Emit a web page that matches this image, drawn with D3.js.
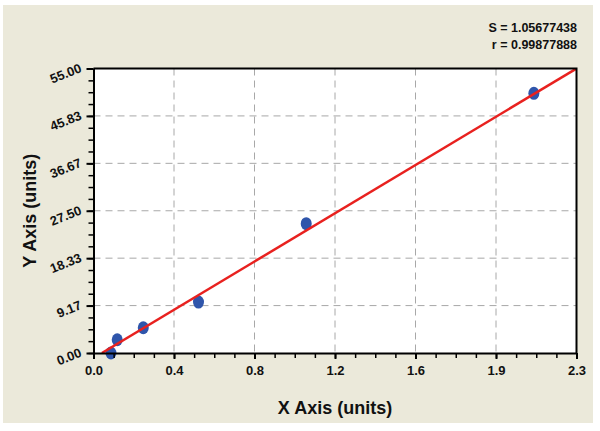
<!DOCTYPE html>
<html>
<head>
<meta charset="utf-8">
<script src="https://cdn.jsdelivr.net/npm/d3@7"></script>
<style>
  body { margin: 0; background: #fff; }
  svg text { font-family: "Liberation Sans", Arial, sans-serif; font-weight: bold; fill: #111; }
</style>
</head>
<body>
<svg width="600" height="431"></svg>
<script>
// data
var xData = [0.083, 0.113, 0.237, 0.50, 1.013, 2.097];
var yData = [0.0, 2.56, 4.88, 9.84, 25.0, 50.2];
// fitted line end points
var fitX = [0.04, 2.3];
var fitY = [0, 55];
var xTickLabels = ['0.0', '0.4', '0.8', '1.2', '1.6', '1.9', '2.3'];
var yTickLabels = ['0.00', '9.17', '18.33', '27.50', '36.67', '45.83', '55.00'];
var statLines = ['S = 1.05677438', 'r = 0.99877888'];

var svg = d3.select('svg');
var margin = { top: 68.5, right: 23.5, bottom: 78, left: 93.5 },
    width = 600,
    height = 431,
    drawWidth = width - margin.left - margin.right,
    drawHeight = height - margin.top - margin.bottom;

var xMax = 2.3, yMax = 55;

// beige panel
svg.append('rect')
    .attr('x', 3).attr('y', 5)
    .attr('width', 590).attr('height', 418)
    .attr('fill', '#ebe9da');

var xScale = d3.scaleLinear().domain([0, xMax]).range([0, drawWidth]);
var yScale = d3.scaleLinear().domain([0, yMax]).range([drawHeight, 0]);

var xMajor = d3.range(7).map(function(i) { return i * xMax / 6; });
var yMajor = d3.range(7).map(function(i) { return i * yMax / 6; });
var xMinor = d3.range(25).map(function(i) { return i * xMax / 24; });
var yMinor = d3.range(25).map(function(i) { return i * yMax / 24; });

var g = svg.append('g')
    .attr('transform', 'translate(' + margin.left + ',' + margin.top + ')');

g.append('rect')
    .attr('width', drawWidth).attr('height', drawHeight)
    .attr('fill', '#fff');

// dashed grid
g.append('g').selectAll('line')
    .data(xMajor.slice(1, -1))
    .enter().append('line')
    .attr('x1', function(d) { return xScale(d); })
    .attr('x2', function(d) { return xScale(d); })
    .attr('y1', 0).attr('y2', drawHeight)
    .attr('stroke', '#a8a8a8').attr('stroke-dasharray', '7,5');

g.append('g').selectAll('line')
    .data(yMajor.slice(1, -1))
    .enter().append('line')
    .attr('y1', function(d) { return yScale(d); })
    .attr('y2', function(d) { return yScale(d); })
    .attr('x1', 0).attr('x2', drawWidth)
    .attr('stroke', '#a8a8a8').attr('stroke-dasharray', '7,5');

// clip for the fit line
g.append('clipPath').attr('id', 'clip')
  .append('rect').attr('width', drawWidth).attr('height', drawHeight);

var line = d3.line()
    .x(function(d) { return xScale(d[0]); })
    .y(function(d) { return yScale(d[1]); });

// points
g.append('g').selectAll('ellipse')
    .data(d3.zip(xData, yData))
    .enter().append('ellipse')
    .attr('cx', function(d) { return xScale(d[0]); })
    .attr('cy', function(d) { return yScale(d[1]); })
    .attr('rx', 5.5).attr('ry', 6.5)
    .attr('fill', '#2f55ab');

g.append('path')
    .datum(d3.zip(fitX, fitY))
    .attr('d', line)
    .attr('clip-path', 'url(#clip)')
    .attr('fill', 'none')
    .attr('stroke', '#e8211f')
    .attr('stroke-width', 2.5);

// frame
g.append('path')
    .attr('d', 'M0,0H' + drawWidth + 'V' + drawHeight)
    .attr('fill', 'none').attr('stroke', '#000').attr('stroke-width', 2);

// axes
var xAxisG = g.append('g').attr('transform', 'translate(0,' + drawHeight + ')');
xAxisG.append('g').call(d3.axisBottom(xScale).tickValues(xMinor).tickSize(5).tickFormat(''))
    .call(function(s) { s.select('.domain').remove(); s.selectAll('line').attr('stroke-width', 1.5); });
xAxisG.append('g').call(d3.axisBottom(xScale).tickValues(xMajor).tickSize(6).tickSizeOuter(0)
        .tickFormat(function(d, i) { return xTickLabels[i]; }))
    .call(function(s) {
        s.select('.domain').attr('stroke-width', 2);
        s.selectAll('line').attr('stroke-width', 2);
        s.selectAll('text').attr('font-size', 13).attr('dy', '1.0em').attr('fill', '#111');
    });

var yAxisG = g.append('g');
yAxisG.append('g').call(d3.axisLeft(yScale).tickValues(yMinor).tickSize(5).tickFormat(''))
    .call(function(s) { s.select('.domain').remove(); s.selectAll('line').attr('stroke-width', 1.5); });
yAxisG.append('g').call(d3.axisLeft(yScale).tickValues(yMajor).tickSize(7).tickSizeOuter(0).tickFormat(''))
    .call(function(s) {
        s.select('.domain').attr('stroke-width', 2);
        s.selectAll('line').attr('stroke-width', 2);
    });
yAxisG.append('g').selectAll('text')
    .data(yMajor)
    .enter().append('text')
    .attr('transform', function(d) { return 'translate(-11,' + (yScale(d) + 3) + ') rotate(-22)'; })
    .attr('text-anchor', 'end')
    .attr('font-size', 13)
    .text(function(d, i) { return yTickLabels[i]; });

// titles
svg.append('text')
    .attr('x', margin.left + drawWidth / 2).attr('y', 414)
    .attr('text-anchor', 'middle').attr('font-size', 18)
    .text('X Axis (units)');

svg.append('text')
    .attr('transform', 'translate(36,' + (margin.top + drawHeight / 2) + ') rotate(-90)')
    .attr('text-anchor', 'middle').attr('font-size', 18)
    .text('Y Axis (units)');

svg.append('g').selectAll('text')
    .data(statLines)
    .enter().append('text')
    .attr('x', 577).attr('y', function(d, i) { return 32 + i * 17; })
    .attr('text-anchor', 'end').attr('font-size', 12.5)
    .text(function(d) { return d; });
</script>
</body>
</html>
